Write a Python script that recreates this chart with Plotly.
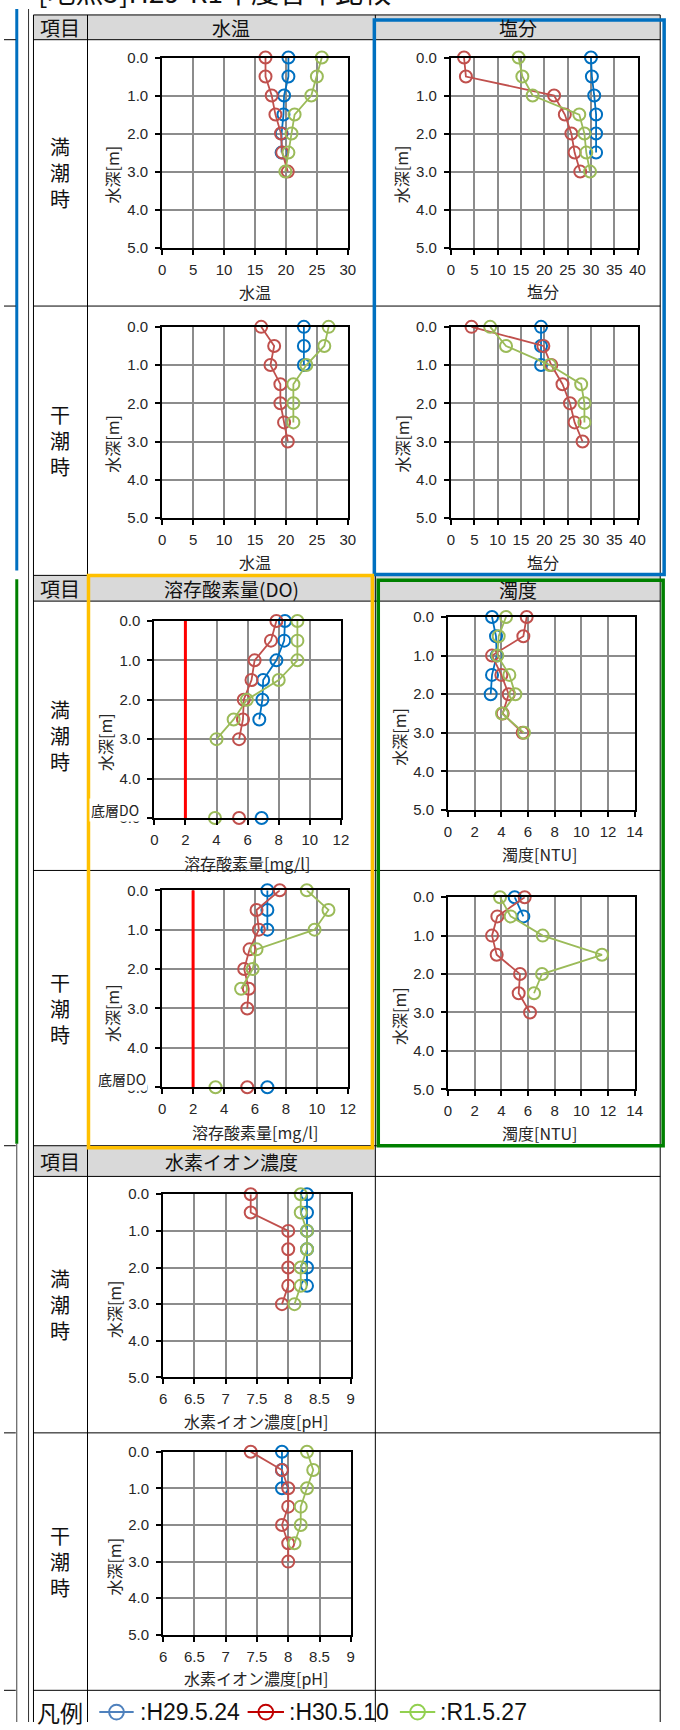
import plotly.graph_objects as go

W, H = 680, 1730

DEPTHS = [0.0, 0.5, 1.0, 1.5, 2.0, 2.5, 3.0]
SERIES_NAMES = ["H29.5.24", "H30.5.10", "R1.5.27"]
SERIES_COLORS = ["#0070C0", "#C0504D", "#9BBB59"]
LEGEND_COLORS = ["#4F81BD", "#C00000", "#92D050"]

# 水温 [℃]
temp_high_h29 = [20.4, 20.4, 19.7, 19.6, 19.3, 19.3]
temp_high_h30 = [16.7, 16.7, 17.7, 18.3, 19.2, 19.4, 20.3]
temp_high_r1 = [25.8, 25.0, 24.1, 21.4, 20.9, 20.4, 19.9]
temp_low_h29 = [22.9, 22.9, 22.9]
temp_low_h30 = [16.0, 18.1, 17.5, 19.1, 19.1, 19.7, 20.3]
temp_low_r1 = [26.9, 26.2, 23.3, 21.2, 21.2, 21.2]

# 塩分
sal_high_h29 = [30.0, 30.2, 30.7, 31.1, 31.1, 31.1]
sal_high_h30 = [2.8, 3.2, 22.1, 24.4, 25.8, 26.5, 27.7]
sal_high_r1 = [14.5, 15.3, 17.5, 27.5, 28.6, 29.0, 29.8]
sal_low_h29 = [19.3, 19.3, 19.3]
sal_low_h30 = [4.4, 19.8, 21.5, 23.9, 25.5, 26.5, 28.2]
sal_low_r1 = [8.4, 11.8, 21.2, 27.9, 28.6, 28.6]

# 溶存酸素量 [mg/l]
do_high_h29 = [8.4, 8.35, 7.85, 7.0, 6.95, 6.75]
do_high_h30 = [7.85, 7.5, 6.45, 6.25, 5.75, 5.7, 5.45]
do_high_r1 = [9.2, 9.2, 9.2, 8.0, 5.95, 5.1, 4.0]
do_high_bottom = [6.9, 5.45, 3.9]
do_low_h29 = [6.8, 6.8, 6.8]
do_low_h30 = [7.6, 6.1, 6.25, 5.65, 5.3, 5.6, 5.5]
do_low_r1 = [9.35, 10.75, 9.85, 6.1, 5.85, 5.1]
do_low_bottom = [6.8, 5.5, 3.45]
DO_STANDARD = 2.0
BOTTOM_DEPTH = 5.0

# 濁度 [NTU]
turb_high_h29 = [3.3, 3.6, 3.65, 3.3, 3.2]
turb_high_h30 = [5.9, 5.65, 3.3, 4.0, 4.55, 4.1, 5.6]
turb_high_r1 = [4.35, 3.8, 3.7, 4.6, 5.05, 4.05, 5.7]
turb_low_h29 = [5.0, 5.65]
turb_low_h30 = [5.75, 3.7, 3.3, 3.65, 5.4, 5.3, 6.15]
turb_low_r1 = [3.9, 4.7, 7.1, 11.55, 7.05, 6.45]

# 水素イオン濃度 [pH]
ph_high_h29 = [8.3, 8.3, 8.3, 8.3, 8.3, 8.3]
ph_high_h30 = [7.4, 7.4, 8.0, 8.0, 8.0, 8.0, 7.9]
ph_high_r1 = [8.2, 8.2, 8.3, 8.3, 8.2, 8.2, 8.1]
ph_low_h29 = [7.9, 7.9, 7.9]
ph_low_h30 = [7.4, 7.9, 8.0, 8.0, 7.9, 8.0, 8.0]
ph_low_r1 = [8.3, 8.4, 8.3, 8.2, 8.2, 8.1]

DEPTH_TICKS = [0, 1, 2, 3, 4, 5]
DEPTH_TICKTEXT = ["0.0", "1.0", "2.0", "3.0", "4.0", "5.0"]

TITLE = "[地点5]H29-R1年度各年比較"

JP = "Noto Sans CJK JP"
LAT = "Liberation Sans, Arial"


def px_x(x):
    return x / W


def px_y(y):
    return 1 - y / H


# plot boxes in pixels: left, top, right, bottom
panels = [
    dict(box=(161, 49, 350, 241), xr=(0, 30), dt=5,
         series=(temp_high_h29, temp_high_h30, temp_high_r1),
         ytitle=(110, 167), xtitle=("水温", 256, 286)),
    dict(box=(455, 49, 645, 241), xr=(0, 40), dt=5,
         series=(sal_high_h29, sal_high_h30, sal_high_r1),
         ytitle=(405, 167), xtitle=("塩分", 549, 285)),
    dict(box=(161, 321, 350, 514), xr=(0, 30), dt=5,
         series=(temp_low_h29, temp_low_h30, temp_low_r1),
         ytitle=(110, 439), xtitle=("水温", 256, 558)),
    dict(box=(455, 321, 645, 514), xr=(0, 40), dt=5,
         series=(sal_low_h29, sal_low_h30, sal_low_r1),
         ytitle=(405, 439), xtitle=("塩分", 549, 558)),
    dict(box=(153, 618, 343, 817), xr=(0, 12), dt=2,
         series=(do_high_h29, do_high_h30, do_high_r1), bottom=do_high_bottom,
         ytitle=(103, 740), xtitle=("溶存酸素量[mg/l]", 247, 862)),
    dict(box=(452, 614, 642, 809), xr=(0, 14), dt=2,
         series=(turb_high_h29, turb_high_h30, turb_high_r1),
         ytitle=(402, 735), xtitle=("濁度[NTU]", 546, 853)),
    dict(box=(161, 890, 350, 1089), xr=(0, 12), dt=2,
         series=(do_low_h29, do_low_h30, do_low_r1), bottom=do_low_bottom,
         ytitle=(110, 1014), xtitle=("溶存酸素量[mg/l]", 255, 1134)),
    dict(box=(452, 897, 642, 1091), xr=(0, 14), dt=2,
         series=(turb_low_h29, turb_low_h30, turb_low_r1),
         ytitle=(402, 1017), xtitle=("濁度[NTU]", 546, 1135)),
    dict(box=(162, 1197, 353, 1382), xr=(6, 9), dt=0.5,
         series=(ph_high_h29, ph_high_h30, ph_high_r1),
         ytitle=(112, 1313), xtitle=("水素イオン濃度[pH]", 257, 1426)),
    dict(box=(162, 1457, 353, 1642), xr=(6, 9), dt=0.5,
         series=(ph_low_h29, ph_low_h30, ph_low_r1),
         ytitle=(112, 1573), xtitle=("水素イオン濃度[pH]", 257, 1686)),
]

fig = go.Figure()
layout = dict(
    width=W, height=H, autosize=False,
    margin=dict(l=0, r=0, t=0, b=0),
    paper_bgcolor="white", plot_bgcolor="white",
    showlegend=False,
)
annotations = []
shapes = []

tick_font = dict(family=LAT, size=15, color="#262626")
GRID = "#8C8C8C"

for i, p in enumerate(panels, start=1):
    l, t, r, b = p["box"]
    xa = "x" if i == 1 else f"x{i}"
    ya = "y" if i == 1 else f"y{i}"
    layout["xaxis" if i == 1 else f"xaxis{i}"] = dict(
        domain=[px_x(l), px_x(r)], anchor=ya, range=list(p["xr"]),
        tick0=p["xr"][0], dtick=p["dt"], showgrid=True, gridcolor=GRID,
        gridwidth=1.5, zeroline=False, showline=True, linecolor="black",
        linewidth=2, mirror=True, ticks="outside", ticklen=5, tickwidth=1.5,
        tickcolor="black", tickfont=tick_font, ticklabelstandoff=2,
        fixedrange=True,
    )
    layout["yaxis" if i == 1 else f"yaxis{i}"] = dict(
        domain=[px_y(b), px_y(t)], anchor=xa, range=[5, 0],
        tickvals=DEPTH_TICKS, ticktext=DEPTH_TICKTEXT, showgrid=True,
        gridcolor=GRID, gridwidth=1.5, zeroline=False, showline=True,
        linecolor="black", linewidth=2, mirror=True, ticks="outside",
        ticklen=5, tickwidth=1.5, tickcolor="black", tickfont=tick_font,
        ticklabelstandoff=4, fixedrange=True,
    )

    if "bottom" in p:
        # environmental standard line for DO
        fig.add_trace(go.Scatter(
            x=[DO_STANDARD, DO_STANDARD], y=[0, BOTTOM_DEPTH], mode="lines",
            line=dict(color="#FF0000", width=3), xaxis=xa, yaxis=ya,
            hoverinfo="skip"))

    for vals, name, color in zip(p["series"], SERIES_NAMES, SERIES_COLORS):
        fig.add_trace(go.Scatter(
            x=vals, y=DEPTHS[:len(vals)], mode="lines+markers", name=name,
            line=dict(color=color, width=1.8),
            marker=dict(symbol="circle-open", size=12, color=color,
                        line=dict(color=color, width=2)),
            cliponaxis=False, xaxis=xa, yaxis=ya))

    if "bottom" in p:
        for v, name, color in zip(p["bottom"], SERIES_NAMES, SERIES_COLORS):
            fig.add_trace(go.Scatter(
                x=[v], y=[BOTTOM_DEPTH], mode="markers", name=name + " 底層",
                marker=dict(symbol="circle-open", size=12, color=color,
                            line=dict(color=color, width=2)),
                cliponaxis=False, xaxis=xa, yaxis=ya))
        annotations.append(dict(
            text="底層DO", x=px_x(l - 14), y=px_y(b - 8), xref="paper",
            yref="paper", xanchor="right", yanchor="middle", showarrow=False,
            bgcolor="white", borderpad=1,
            font=dict(family=JP, size=14, color="#222")))

    ytx, yty = p["ytitle"]
    annotations.append(dict(
        text="水深[m]", x=px_x(ytx), y=px_y(yty), xref="paper", yref="paper",
        textangle=-90, showarrow=False, xanchor="center", yanchor="middle",
        font=dict(family=JP, size=16, color="#262626")))
    xt, xtx, xty = p["xtitle"]
    annotations.append(dict(
        text=xt, x=px_x(xtx), y=px_y(xty), xref="paper", yref="paper",
        showarrow=False, xanchor="center", yanchor="middle",
        font=dict(family=JP, size=16, color="#262626")))

# ---- table frame ----
C0, C1, C2, C3 = 30, 85, 378, 668
rows = [6, 31, 300, 572, 598, 870, 1148, 1179, 1438, 1698]
headers = [(6, 31), (572, 598), (1148, 1179)]


def rect(x0, y0, x1, y1, **kw):
    shapes.append(dict(type="rect", xref="paper", yref="paper",
                       x0=px_x(x0), x1=px_x(x1), y0=px_y(y0), y1=px_y(y1), **kw))


def line(x0, y0, x1, y1, color="black", width=1):
    shapes.append(dict(type="line", xref="paper", yref="paper",
                       x0=px_x(x0), x1=px_x(x1), y0=px_y(y0), y1=px_y(y1),
                       line=dict(color=color, width=width)))


GRAY = "#D9D9D9"
for (t, b) in headers[:2]:
    rect(C0, t, C3, b, fillcolor=GRAY, line=dict(width=0), layer="below")
rect(C0, headers[2][0], C2, headers[2][1], fillcolor=GRAY,
     line=dict(width=0), layer="below")

# edge of the neighbouring sheet
line(13, 0, 13, 567, color="#0070C0", width=3)
line(13, 576, 13, 1146, color="#008000", width=3)
line(13, 1146, 13, H, color="#404040", width=1)
line(0, 31, 12, 31)
line(0, 300, 12, 300)
line(0, 1148, 12, 1148)
line(0, 1438, 12, 1438)
line(0, 1698, 12, 1698)
line(25, 0, 25, H, color="#303030", width=1)

for y in rows:
    line(C0, y, C3, y)
for x in (C0, C1, C2, C3):
    line(x, 6, x, H)

# coloured highlight boxes
rect(377, 11, 672, 571, line=dict(color="#0070C0", width=3.5))
rect(86, 572, 375, 1150, line=dict(color="#FFC000", width=3.5))
rect(381, 577, 671, 1148, line=dict(color="#008000", width=3.5))

# ---- cell texts ----


def text(t, x, y, size=19, anchor="center", family=JP):
    annotations.append(dict(text=t, x=px_x(x), y=px_y(y), xref="paper",
                            yref="paper", showarrow=False, xanchor=anchor,
                            yanchor="middle",
                            font=dict(family=family, size=size, color="#111")))


for (t, b) in headers:
    text("項目", (C0 + C1) / 2, (t + b) / 2, size=20)
text("水温", (C1 + C2) / 2, 19)
text("塩分", (C2 + C3) / 2, 19)
text("溶存酸素量(DO)", (C1 + C2) / 2, 585)
text("濁度", (C2 + C3) / 2, 586)
text("水素イオン濃度", (C1 + C2) / 2, 1164)

for (t, b), lab in zip([(31, 300), (300, 572), (598, 870), (870, 1148),
                        (1179, 1438), (1438, 1698)],
                       ["満<br>潮<br>時", "干<br>潮<br>時"] * 3):
    text(lab, (C0 + C1) / 2, (t + b) / 2, size=20)

# sheet title, running off the top edge
annotations.append(dict(text=TITLE, x=px_x(33), y=px_y(4), xref="paper",
                        yref="paper", xanchor="left", yanchor="bottom",
                        showarrow=False,
                        font=dict(family=JP, size=28, color="#111")))

# ---- legend row ----
LEG_Y = 1720
text("凡例", (C0 + C1) / 2, LEG_Y, size=23)
leg_x = [(97, 132, 136), (248, 285, 288), (403, 439, 442)]
for (x0, x1, tx), name, color in zip(leg_x, SERIES_NAMES, LEGEND_COLORS):
    line(x0, LEG_Y, x1, LEG_Y, color=color, width=2)
    cx = (x0 + x1) / 2
    shapes.append(dict(type="circle", xref="paper", yref="paper",
                       x0=px_x(cx - 7.5), x1=px_x(cx + 7.5),
                       y0=px_y(LEG_Y + 7.5), y1=px_y(LEG_Y - 7.5),
                       line=dict(color=color, width=2)))
    text(":" + name, tx, LEG_Y, size=23, anchor="left",
         family="Liberation Sans Narrow, Liberation Sans, Arial")

layout["annotations"] = annotations
layout["shapes"] = shapes
fig.update_layout(**layout)
fig.write_html("out.html", config={"displayModeBar": False})
